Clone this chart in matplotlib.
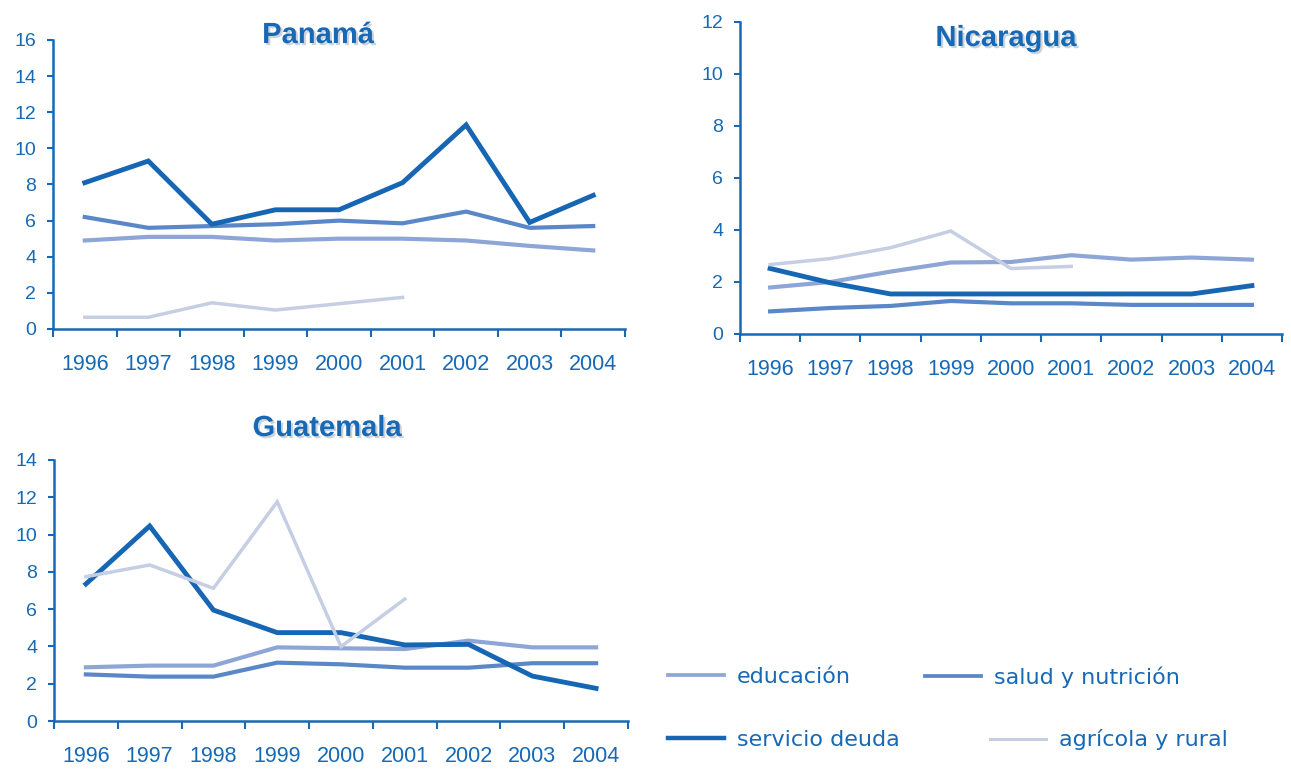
import numpy as np
import matplotlib
matplotlib.use('Agg')
import matplotlib.pyplot as plt
from matplotlib.lines import Line2D
import matplotlib.patheffects as pe

years = ['1996', '1997', '1998', '1999', '2000', '2001', '2002', '2003', '2004']

# Panamá
pan_educacion = [4.9, 5.1, 5.1, 4.9, 5.0, 5.0, 4.9, 4.6, 4.35]
pan_salud = [6.2, 5.6, 5.7, 5.8, 6.0, 5.85, 6.5, 5.6, 5.7]
pan_deuda = [8.1, 9.3, 5.8, 6.6, 6.6, 8.1, 11.3, 5.9, 7.4]
pan_agricola = [0.65, 0.65, 1.45, 1.05, 1.4, 1.75]

# Nicaragua
nic_educacion = [1.79, 2.0, 2.4, 2.75, 2.77, 3.03, 2.86, 2.94, 2.86]
nic_salud = [0.87, 1.0, 1.08, 1.27, 1.18, 1.18, 1.12, 1.12, 1.12]
nic_deuda = [2.52, 1.97, 1.54, 1.54, 1.54, 1.54, 1.54, 1.54, 1.86]
nic_agricola = [2.67, 2.9, 3.32, 3.96, 2.52, 2.6]

# Guatemala
gua_educacion = [2.88, 2.97, 2.97, 3.95, 3.9, 3.86, 4.31, 3.95, 3.95]
gua_salud = [2.5, 2.38, 2.38, 3.13, 3.04, 2.86, 2.86, 3.1, 3.1]
gua_deuda = [7.35, 10.46, 5.95, 4.74, 4.74, 4.08, 4.11, 2.41, 1.75]
gua_agricola = [7.74, 8.37, 7.12, 11.76, 3.99, 6.54]

labels = ['educación', 'salud y nutrición', 'servicio deuda', 'agrícola y rural']
colors = ['#8ea6d6', '#5a87c8', '#1766b4', '#c6cee4']
widths = [3.0, 3.0, 3.5, 2.5]
blue = '#1769b5'

W, H = 1291, 769
fig = plt.figure(figsize=(W / 100, H / 100), dpi=100)
fig.patch.set_facecolor('white')


def px_axes(left, right, top, bottom):
    return fig.add_axes([left / W, 1 - bottom / H, (right - left) / W, (bottom - top) / H])


def draw(ax, series, ymax, title, tx, ty):
    x = np.arange(len(years))
    order = [3, 0, 1, 2]
    for i in order:
        vals = series[i]
        ax.plot(x[:len(vals)], vals, color=colors[i], lw=widths[i],
                solid_joinstyle='miter', zorder=2 + i)
    ax.set_xlim(-0.5, len(years) - 0.5)
    ax.set_ylim(0, ymax)
    ax.set_yticks(np.arange(0, ymax + 1, 2))
    ax.set_xticks(np.arange(-0.5, len(years)), labels=[])
    ax.set_xticks(x, labels=years, minor=True)
    for s in ['top', 'right']:
        ax.spines[s].set_visible(False)
    for s in ['left', 'bottom']:
        ax.spines[s].set_color(blue)
        ax.spines[s].set_linewidth(1.8)
    ax.tick_params(axis='y', colors=blue, length=4, width=1.5, pad=8,
                   labelsize=14)
    ax.tick_params(axis='x', which='major', colors=blue, length=6, width=1.5)
    ax.tick_params(axis='x', which='minor', colors=blue, length=0, pad=18,
                   labelsize=15.5)
    for lab in ax.get_yticklabels() + ax.get_xticklabels(minor=True):
        lab.set_family('Liberation Sans')
    t = fig.text(tx / W, 1 - ty / H, title, ha='center', va='center',
                 fontsize=21, fontweight='bold', color=blue,
                 family='Liberation Sans')
    t.set_path_effects([pe.withSimplePatchShadow(offset=(1.5, -1.5),
                                                 shadow_rgbFace='#9aa6b8', alpha=0.5)])


ax1 = px_axes(53, 625, 40, 329)
draw(ax1, [pan_educacion, pan_salud, pan_deuda, pan_agricola], 16, 'Panamá', 318, 35)

ax2 = px_axes(740, 1282, 22, 334)
draw(ax2, [nic_educacion, nic_salud, nic_deuda, nic_agricola], 12, 'Nicaragua', 1006, 38)

ax3 = px_axes(54, 628, 460, 721)
draw(ax3, [gua_educacion, gua_salud, gua_deuda, gua_agricola], 14, 'Guatemala', 327, 428)

# legend, one entry at a time to keep the original flow layout
spots = [(668, 677), (925, 677), (668, 740), (990, 740)]
for i in range(4):
    h = Line2D([], [], color=colors[i], lw=widths[i] - 0.3)
    fig.legend(handles=[h], labels=[labels[i]], loc='center left',
               bbox_to_anchor=(spots[i][0] / W, 1 - spots[i][1] / H),
               frameon=False, borderpad=0, borderaxespad=0,
               handlelength=2.5, handletextpad=0.6,
               prop={'family': 'DejaVu Sans', 'size': 16}, labelcolor=blue)

fig.savefig('out.png', dpi=100, facecolor='white')
